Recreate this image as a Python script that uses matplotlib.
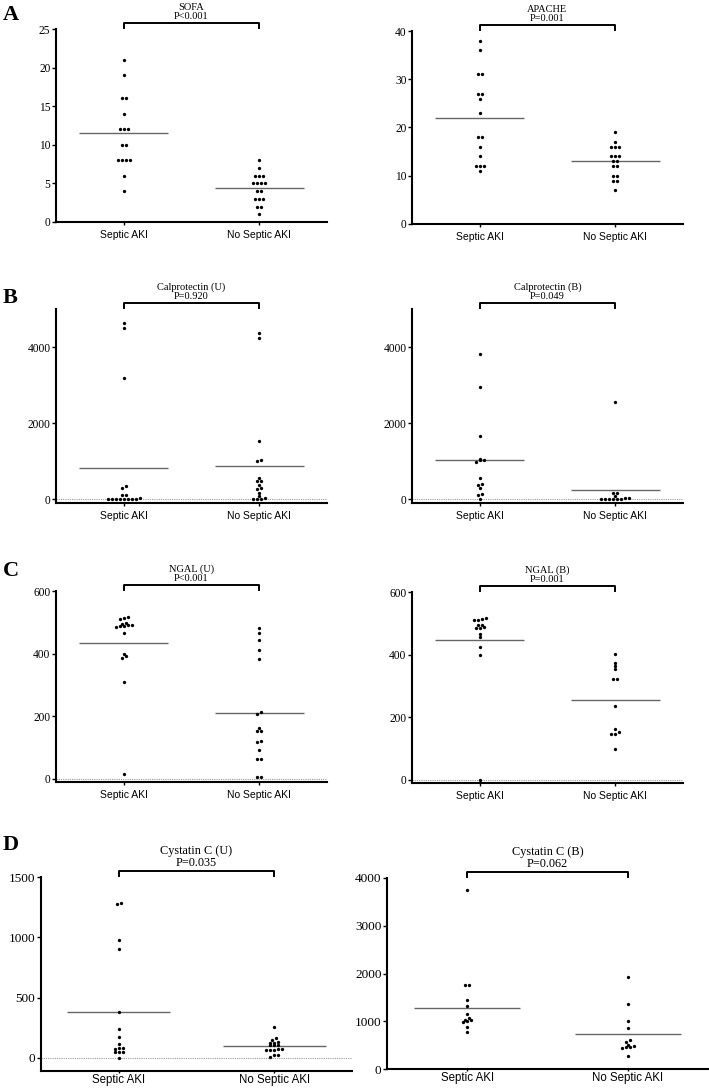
import numpy as np
import matplotlib
matplotlib.use('Agg')
import matplotlib.pyplot as plt

W, H = 709, 1088
groups = ['Septic AKI', 'No Septic AKI']

# values (one list per group), plus the drawn mean lines
sofa_septic = [21, 19, 16, 16, 14, 12, 12, 12, 10, 10, 8, 8, 8, 8, 6, 4]
sofa_no = [8, 7, 6, 6, 6, 5, 5, 5, 5, 4, 4, 3, 3, 3, 2, 2, 1]
sofa_means = [11.5, 4.4]

apache_septic = [38, 36, 31, 31, 27, 27, 26, 23, 18, 18, 16, 14, 12, 12, 12, 11]
apache_no = [19, 17, 16, 16, 16, 14, 14, 14, 13, 13, 12, 12, 10, 10, 9, 9, 7]
apache_means = [22, 13]

calpro_u_septic = [4630, 4500, 3190, 335, 280, 95, 35, 0, 0, 0, 0, 0, 0, 0, 0, 95]
calpro_u_no = [4370, 4240, 1525, 1030, 990, 565, 485, 485, 380, 280, 265, 165, 80, 35, 0, 0, 0]
calpro_u_means = [828, 872]

calpro_b_septic = [3815, 2960, 1665, 1040, 1022, 969, 1031, 564, 405, 379, 282, 123, 106, 0]
calpro_b_no = [2555, 159, 159, 70, 18, 0, 0, 0, 0, 0, 0, 35]
calpro_b_means = [1031, 247]

ngal_u_septic = [516, 513, 510, 498, 495, 490, 490, 488, 487, 485, 466, 400, 393, 386, 308, 16]
ngal_u_no = [481, 466, 442, 411, 383, 214, 208, 163, 153, 154, 120, 118, 91, 65, 64, 7, 7]
ngal_u_means = [435, 209]

ngal_b_septic = [514, 512, 512, 518, 489, 496, 496, 484, 486, 467, 457, 423, 398, 0]
ngal_b_no = [401, 372, 364, 355, 321, 322, 235, 161, 146, 145, 152, 98]
ngal_b_means = [447, 255]

cysc_u_septic = [1282, 1273, 974, 905, 382, 241, 177, 116, 86, 80, 72, 50, 50, 50, 3]
cysc_u_no = [260, 163, 150, 136, 127, 127, 108, 108, 105, 72, 72, 69, 69, 66, 25, 22, 11]
cysc_u_means = [385, 97]

cysc_b_septic = [3750, 1767, 1767, 1447, 1329, 1155, 1064, 1030, 1016, 1009, 974, 890, 765]
cysc_b_no = [1934, 1364, 1009, 849, 612, 560, 501, 487, 459, 459, 438, 264]
cysc_b_means = [1277, 737]

panels = [
    dict(title='SOFA', p='P<0.001', data=(sofa_septic, sofa_no), means=sofa_means,
         ylim=(0, 25), yticks=[0, 5, 10, 15, 20, 25], box=(56, 29, 327, 222), zero=False, big=False),
    dict(title='APACHE', p='P=0.001', data=(apache_septic, apache_no), means=apache_means,
         ylim=(0, 40), yticks=[0, 10, 20, 30, 40], box=(412, 31, 683, 224), zero=False, big=False),
    dict(title='Calprotectin (U)', p='P=0.920', data=(calpro_u_septic, calpro_u_no), means=calpro_u_means,
         ylim=(-105, 5000), yticks=[0, 2000, 4000], box=(56, 309, 327, 503), zero=True, big=False),
    dict(title='Calprotectin (B)', p='P=0.049', data=(calpro_b_septic, calpro_b_no), means=calpro_b_means,
         ylim=(-105, 5000), yticks=[0, 2000, 4000], box=(412, 309, 683, 503), zero=True, big=False),
    dict(title='NGAL (U)', p='P<0.001', data=(ngal_u_septic, ngal_u_no), means=ngal_u_means,
         ylim=(-10, 600), yticks=[0, 200, 400, 600], box=(56, 591, 327, 782), zero=True, big=False),
    dict(title='NGAL (B)', p='P=0.001', data=(ngal_b_septic, ngal_b_no), means=ngal_b_means,
         ylim=(-10, 600), yticks=[0, 200, 400, 600], box=(412, 592, 683, 783), zero=True, big=False),
    dict(title='Cystatin C (U)', p='P=0.035', data=(cysc_u_septic, cysc_u_no), means=cysc_u_means,
         ylim=(-108, 1500), yticks=[0, 500, 1000, 1500], box=(41, 877, 352, 1071), zero=True, big=True),
    dict(title='Cystatin C (B)', p='P=0.062', data=(cysc_b_septic, cysc_b_no), means=cysc_b_means,
         ylim=(0, 4000), yticks=[0, 1000, 2000, 3000, 4000], box=(387, 878, 708, 1069), zero=False, big=True),
]

letters = [('A', 20), ('B', 303), ('C', 576), ('D', 850)]


def swarm_offsets(vals, px_per_unit, px_per_x, d=4.0, tol=2.5):
    # group near-equal values into centred rows
    vals = np.asarray(vals, float)
    order = np.argsort(vals)
    offs = np.zeros(len(vals))

    def flush(row):
        n = len(row)
        for k, idx in enumerate(row):
            offs[idx] = (k - (n - 1) / 2) * d / px_per_x

    row = [order[0]]
    for idx in order[1:]:
        if (vals[idx] - vals[row[0]]) * px_per_unit < tol:
            row.append(idx)
        else:
            flush(row)
            row = [idx]
    flush(row)
    return offs


serif = 'Liberation Serif'
sans = 'Liberation Sans'

fig = plt.figure(figsize=(W / 100, H / 100), dpi=100)

for pn in panels:
    l, t, r, b = pn['box']
    wpx, hpx = r - l, b - t
    ax = fig.add_axes([l / W, 1 - b / H, wpx / W, hpx / H])
    ax.set_xlim(-0.5, 1.5)
    ax.set_ylim(*pn['ylim'])
    y0, y1 = pn['ylim']
    px_per_unit = hpx / (y1 - y0)
    px_per_x = wpx / 2.0

    if pn['zero']:
        ax.axhline(0, color='#9a9a9a', ls=(0, (1, 1)), lw=0.8, zorder=1)

    for i, vals in enumerate(pn['data']):
        offs = swarm_offsets(vals, px_per_unit, px_per_x)
        ax.plot(i + offs, vals, 'o', color='black', ms=2.4, mew=0, zorder=3, clip_on=False)
        ax.hlines(pn['means'][i], i - 0.33, i + 0.33, color='#666666', lw=1.0, zorder=2)

    for s in ['top', 'right']:
        ax.spines[s].set_visible(False)
    for s in ['left', 'bottom']:
        ax.spines[s].set_linewidth(1.5)

    tsize = 9.5 if pn['big'] else 8.3
    xsize = 8.3 if pn['big'] else 7.5
    ttl = 8.8 if pn['big'] else 7.5

    ax.set_yticks(pn['yticks'])
    ax.set_yticklabels([str(v) for v in pn['yticks']], fontfamily=serif, fontsize=tsize)
    ax.set_xticks([0, 1])
    ax.set_xticklabels(groups, fontfamily=sans, fontsize=xsize)
    ax.tick_params(axis='y', direction='out', length=3, width=1, pad=1)
    if pn['big']:
        ax.tick_params(axis='x', direction='out', length=1.5, width=1, pad=0.5)
    else:
        ax.tick_params(axis='x', direction='out', length=2.5, width=1, pad=3)

    # significance bracket and title
    tr = ax.get_xaxis_transform()
    yb = 1 + 6 / hpx
    yl = 1 + 1.5 / hpx
    ax.plot([0, 0, 1, 1], [yl, yb, yb, yl], color='black', lw=1.4, transform=tr, clip_on=False)
    ax.text(0.5, 1 + 8 / hpx, pn['title'] + '\n' + pn['p'], transform=tr, ha='center', va='bottom',
            fontfamily=serif, fontsize=ttl, linespacing=1.0)

for letter, ybase in letters:
    fig.text(3 / W, 1 - ybase / H, letter, fontfamily=serif, fontweight='bold', fontsize=16,
             ha='left', va='baseline')

fig.savefig('out.png', dpi=100)
